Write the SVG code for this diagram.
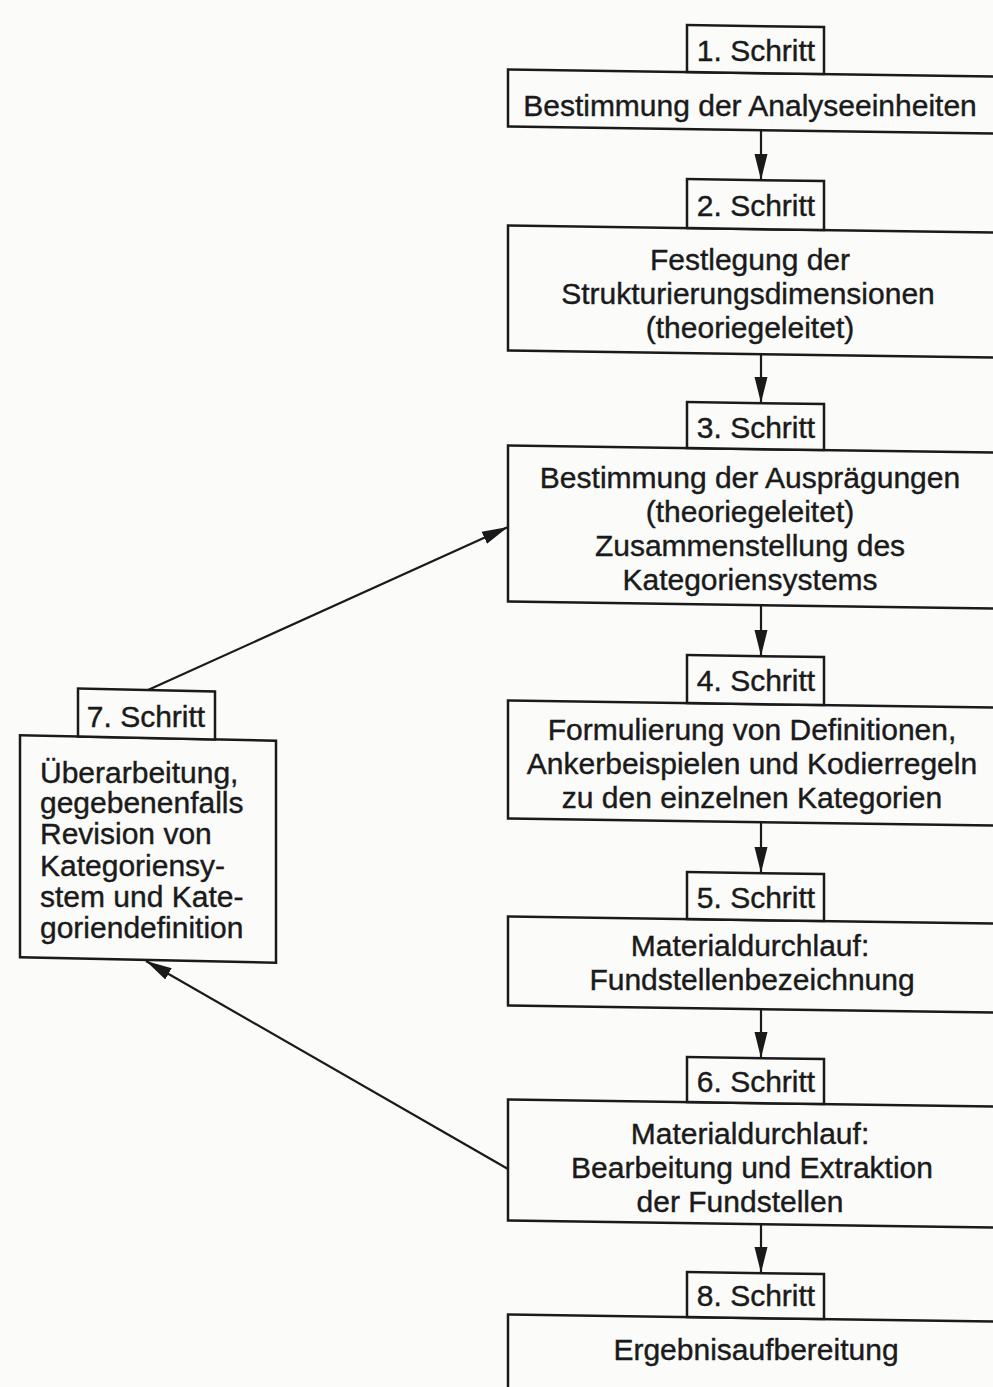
<svg xmlns="http://www.w3.org/2000/svg" width="993" height="1387" viewBox="0 0 993 1387">
  <defs>
    <marker id="ah" markerUnits="userSpaceOnUse" markerWidth="28" markerHeight="16" refX="26" refY="7" orient="auto">
      <path d="M0,0.5 L26,7 L0,13.5 z" fill="#1a1a1a"/>
    </marker>
    <style>
      .box { fill: #fbfbfa; stroke: #1a1a1a; stroke-width: 2.5; }
      .t { font-family: "Liberation Sans", Arial, sans-serif; font-size: 30px; fill: #1a1a1a; stroke: #1a1a1a; stroke-width: 0.4; }
      .c { text-anchor: middle; }
      .lbl { text-anchor: middle; }
      .conn { stroke: #1a1a1a; stroke-width: 2.2; fill: none; marker-end: url(#ah); }
    </style>
  </defs>
  <rect x="0" y="0" width="993" height="1387" fill="#fbfbfa"/>

  <g id="step1">
    <g transform="translate(750 0) skewY(0.85) translate(-750 0)">
      <rect class="box" x="508" y="73" width="510" height="57"/>
      <rect class="box" x="687" y="26" width="137" height="47"/>
    </g>
    <text class="t lbl" x="756" y="61">1. Schritt</text>
    <text class="t c" x="750" y="116">Bestimmung der Analyseeinheiten</text>
  </g>
  <g id="step2">
    <g transform="translate(750 0) skewY(0.85) translate(-750 0)">
      <rect class="box" x="508" y="229" width="510" height="125"/>
      <rect class="box" x="687" y="180" width="137" height="49"/>
    </g>
    <text class="t lbl" x="756" y="216">2. Schritt</text>
    <text class="t c" x="750" y="270">Festlegung der</text>
    <text class="t c" x="748" y="304">Strukturierungsdimensionen</text>
    <text class="t c" x="750" y="338">(theoriegeleitet)</text>
  </g>
  <g id="step3">
    <g transform="translate(750 0) skewY(0.85) translate(-750 0)">
      <rect class="box" x="508" y="449" width="510" height="156"/>
      <rect class="box" x="687" y="403" width="137" height="46"/>
    </g>
    <text class="t lbl" x="756" y="438">3. Schritt</text>
    <text class="t c" x="750" y="488">Bestimmung der Ausprägungen</text>
    <text class="t c" x="750" y="522">(theoriegeleitet)</text>
    <text class="t c" x="750" y="556">Zusammenstellung des</text>
    <text class="t c" x="750" y="590">Kategoriensystems</text>
  </g>
  <g id="step4">
    <g transform="translate(750 0) skewY(0.85) translate(-750 0)">
      <rect class="box" x="508" y="704" width="510" height="118"/>
      <rect class="box" x="687" y="656" width="137" height="48"/>
    </g>
    <text class="t lbl" x="756" y="691">4. Schritt</text>
    <text class="t c" x="752" y="740">Formulierung von Definitionen,</text>
    <text class="t c" x="752" y="774">Ankerbeispielen und Kodierregeln</text>
    <text class="t c" x="752" y="808">zu den einzelnen Kategorien</text>
  </g>
  <g id="step5">
    <g transform="translate(750 0) skewY(0.85) translate(-750 0)">
      <rect class="box" x="508" y="920" width="510" height="89"/>
      <rect class="box" x="687" y="873" width="137" height="47"/>
    </g>
    <text class="t lbl" x="756" y="908">5. Schritt</text>
    <text class="t c" x="750" y="956">Materialdurchlauf:</text>
    <text class="t c" x="752" y="990">Fundstellenbezeichnung</text>
  </g>
  <g id="step6">
    <g transform="translate(750 0) skewY(0.85) translate(-750 0)">
      <rect class="box" x="508" y="1103" width="510" height="121"/>
      <rect class="box" x="687" y="1058" width="137" height="45"/>
    </g>
    <text class="t lbl" x="756" y="1092">6. Schritt</text>
    <text class="t c" x="750" y="1144">Materialdurchlauf:</text>
    <text class="t c" x="752" y="1178">Bearbeitung und Extraktion</text>
    <text class="t c" x="740" y="1212">der Fundstellen</text>
  </g>
  <g id="step8">
    <g transform="translate(750 0) skewY(0.85) translate(-750 0)">
      <rect class="box" x="508" y="1318" width="510" height="120"/>
      <rect class="box" x="687" y="1273" width="137" height="45"/>
    </g>
    <text class="t lbl" x="756" y="1306">8. Schritt</text>
    <text class="t c" x="756" y="1360">Ergebnisaufbereitung</text>
  </g>

  <g id="step7">
    <g transform="translate(148 0) skewY(1.2) translate(-148 0)">
      <rect class="box" x="20" y="738" width="256" height="222"/>
      <rect class="box" x="78" y="690" width="137" height="48"/>
    </g>
    <text class="t lbl" x="146" y="727">7. Schritt</text>
    <text class="t" x="40" y="783">Überarbeitung,</text>
    <text class="t" x="40" y="813">gegebenenfalls</text>
    <text class="t" x="40" y="844">Revision von</text>
    <text class="t" x="40" y="876">Kategoriensy-</text>
    <text class="t" x="40" y="907">stem und Kate-</text>
    <text class="t" x="40" y="938">goriendefinition</text>
  </g>

  <g id="connectors">
    <line class="conn" x1="761" y1="131" x2="761" y2="180"/>
    <line class="conn" x1="761" y1="355" x2="761" y2="403"/>
    <line class="conn" x1="761" y1="606" x2="761" y2="656"/>
    <line class="conn" x1="761" y1="823" x2="761" y2="873"/>
    <line class="conn" x1="761" y1="1010" x2="761" y2="1058"/>
    <line class="conn" x1="761" y1="1225" x2="761" y2="1273"/>
    <line class="conn" x1="148" y1="690" x2="508" y2="527"/>
    <line class="conn" x1="508" y1="1169" x2="146" y2="961"/>
  </g>
</svg>
